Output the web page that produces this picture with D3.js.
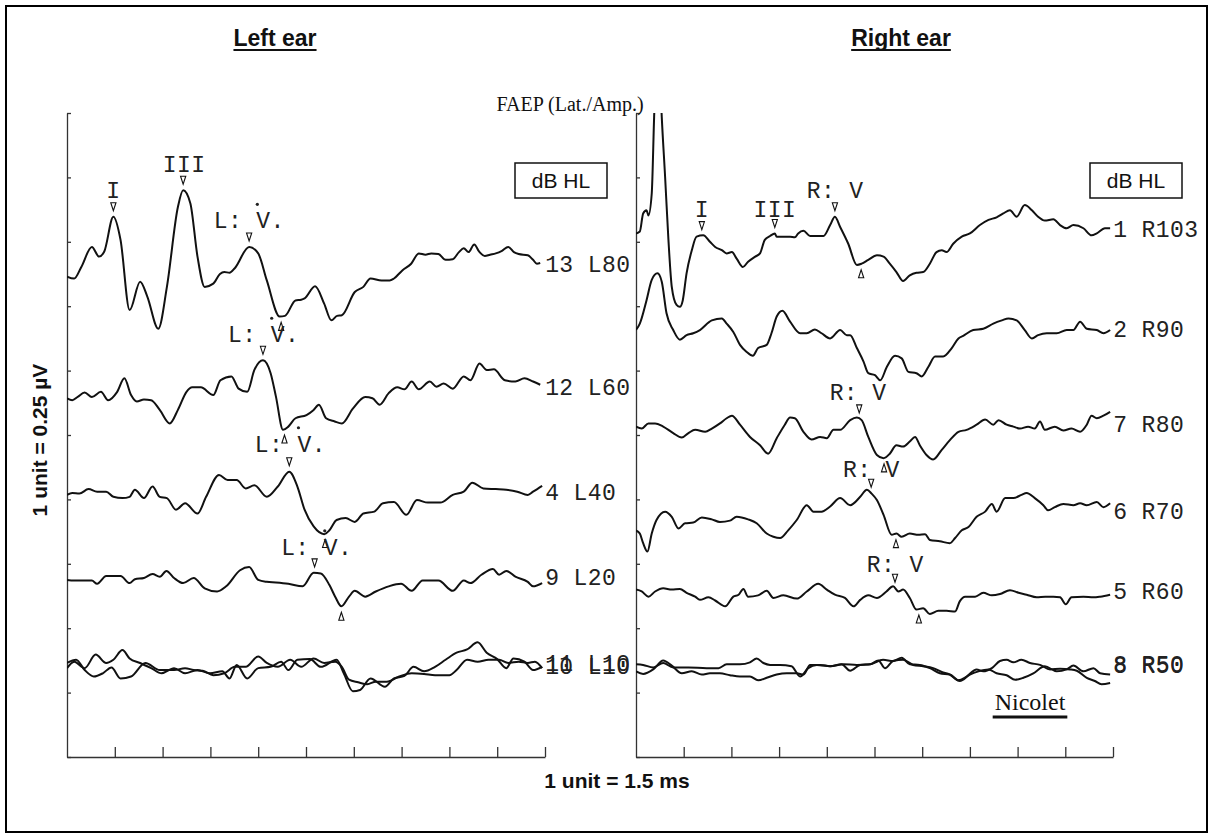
<!DOCTYPE html>
<html><head><meta charset="utf-8">
<script src="https://cdn.jsdelivr.net/npm/d3@7"></script>
<style>body{margin:0;background:#fff}</style>
</head><body>
<svg id="chart" width="1214" height="838"></svg>
<script>
// time in units (1 unit = 1.5 ms), amplitude in units (1 unit = 0.25 µV)
const timeTicks = [0,1,2,3,4,5,6,7,8,9,10];
const ampTicks  = [0,1,2,3,4,5,6,7,8,9,10];

const L80 = [[0,7.46],[0.15,7.43],[0.30,7.61],[0.52,7.92],[0.67,7.77],[0.78,7.85],[0.97,8.39],[1.12,8.03],[1.31,6.94],[1.53,7.38],[1.68,7.15],[1.91,6.65],[2.09,7.30],[2.32,8.54],[2.43,8.80],[2.58,8.60],[2.73,7.77],[2.88,7.30],[3.06,7.35],[3.20,7.50],[3.29,7.53],[3.40,7.52],[3.51,7.59],[3.81,7.92],[4.00,7.82],[4.18,7.40],[4.45,6.84],[4.56,6.85],[4.78,7.09],[4.90,7.10],[4.97,7.12],[5.19,7.31],[5.38,7.04],[5.53,6.78],[5.65,6.85],[5.75,6.86],[6.02,7.22],[6.20,7.30],[6.35,7.43],[6.58,7.40],[6.75,7.40],[6.84,7.43],[7.02,7.56],[7.20,7.66],[7.36,7.82],[7.50,7.80],[7.62,7.82],[7.77,7.81],[7.92,7.72],[8.07,7.73],[8.20,7.84],[8.30,7.90],[8.40,7.84],[8.52,7.96],[8.62,7.85],[8.74,7.78],[8.85,7.80],[8.97,7.82],[9.10,7.86],[9.23,7.92],[9.35,7.84],[9.45,7.81],[9.64,7.79],[9.75,7.72],[9.83,7.66],[9.90,7.67]];
const L60 = [[0,5.57],[0.11,5.54],[0.22,5.59],[0.37,5.66],[0.52,5.59],[0.71,5.67],[0.86,5.54],[1.05,5.67],[1.20,5.88],[1.34,5.62],[1.46,5.52],[1.61,5.55],[1.76,5.54],[1.94,5.39],[2.15,5.18],[2.32,5.39],[2.50,5.67],[2.62,5.74],[2.80,5.74],[3.06,5.62],[3.21,5.85],[3.44,5.91],[3.59,5.72],[3.77,5.67],[3.92,6.01],[4.10,6.16],[4.26,5.96],[4.37,5.60],[4.52,5.08],[4.63,5.13],[4.78,5.26],[5.01,5.31],[5.16,5.39],[5.27,5.47],[5.42,5.26],[5.60,5.21],[5.75,5.18],[5.98,5.41],[6.24,5.59],[6.39,5.57],[6.54,5.47],[6.73,5.65],[6.91,5.74],[7.06,5.71],[7.21,5.83],[7.36,5.71],[7.59,5.83],[7.73,5.75],[7.88,5.80],[8.07,5.72],[8.30,5.91],[8.44,5.85],[8.63,6.11],[8.78,6.01],[8.93,6.02],[9.16,5.85],[9.38,5.83],[9.57,5.88],[9.75,5.83],[9.90,5.78]];
const L40 = [[0,4.07],[0.11,4.10],[0.26,4.09],[0.45,4.16],[0.63,4.12],[0.82,4.12],[0.97,4.04],[1.16,4.02],[1.31,4.04],[1.42,4.15],[1.61,4.02],[1.79,4.20],[1.94,4.04],[2.09,4.02],[2.28,3.84],[2.47,3.94],[2.73,3.78],[2.91,4.04],[3.18,4.38],[3.36,4.30],[3.55,4.30],[3.74,4.17],[3.92,4.22],[4.18,4.04],[4.41,4.20],[4.65,4.43],[4.82,4.20],[4.97,3.84],[5.16,3.58],[5.38,3.46],[5.49,3.52],[5.64,3.68],[5.83,3.71],[6.02,3.65],[6.20,3.78],[6.43,3.81],[6.61,3.94],[6.84,3.96],[7.10,3.76],[7.32,3.99],[7.55,3.95],[7.81,3.95],[8.07,4.07],[8.30,4.12],[8.48,4.26],[8.71,4.17],[8.97,4.16],[9.19,4.15],[9.42,4.12],[9.64,4.07],[9.75,4.12],[9.94,4.21]];
const L20 = [[0,2.75],[0.15,2.74],[0.52,2.74],[0.63,2.69],[0.82,2.81],[1.12,2.81],[1.31,2.70],[1.42,2.76],[1.61,2.78],[1.79,2.84],[1.94,2.80],[2.08,2.89],[2.24,2.78],[2.43,2.70],[2.65,2.78],[2.88,2.62],[3.14,2.57],[3.33,2.65],[3.62,2.90],[3.81,2.95],[4.00,2.75],[4.18,2.72],[4.37,2.71],[4.63,2.69],[4.93,2.65],[5.16,2.86],[5.31,2.85],[5.49,2.67],[5.61,2.49],[5.74,2.34],[5.90,2.49],[6.02,2.58],[6.24,2.49],[6.46,2.57],[6.73,2.65],[6.99,2.69],[7.21,2.58],[7.44,2.74],[7.77,2.74],[8.07,2.58],[8.30,2.74],[8.44,2.70],[8.67,2.83],[8.91,2.92],[9.04,2.83],[9.19,2.89],[9.38,2.80],[9.64,2.72],[9.75,2.65],[9.94,2.70]];
const L10a = [[0,1.38],[0.15,1.48],[0.37,1.38],[0.60,1.59],[0.82,1.46],[0.97,1.51],[1.16,1.66],[1.31,1.53],[1.53,1.46],[1.76,1.38],[1.98,1.30],[2.24,1.38],[2.47,1.30],[2.73,1.35],[2.99,1.30],[3.25,1.33],[3.40,1.22],[3.55,1.43],[3.77,1.22],[4.00,1.38],[4.26,1.40],[4.48,1.48],[4.63,1.35],[4.82,1.51],[5.08,1.52],[5.31,1.40],[5.64,1.51],[5.79,1.30],[5.98,1.02],[6.13,1.04],[6.35,1.22],[6.65,1.09],[6.84,1.22],[7.06,1.26],[7.25,1.40],[7.47,1.33],[7.70,1.40],[7.92,1.51],[8.15,1.62],[8.37,1.67],[8.59,1.78],[8.78,1.62],[9.00,1.52],[9.19,1.38],[9.34,1.53],[9.57,1.48],[9.75,1.35],[9.94,1.40]];
const L10b = [[0,1.46],[0.19,1.51],[0.37,1.35],[0.56,1.25],[0.75,1.30],[0.93,1.39],[1.12,1.22],[1.34,1.25],[1.64,1.46],[1.94,1.35],[2.24,1.35],[2.47,1.38],[2.65,1.35],[2.84,1.34],[3.06,1.27],[3.29,1.30],[3.51,1.40],[3.74,1.40],[4.00,1.56],[4.18,1.46],[4.41,1.40],[4.67,1.51],[4.90,1.40],[5.16,1.53],[5.38,1.46],[5.61,1.48],[5.75,1.40],[5.90,1.20],[6.09,1.16],[6.28,1.13],[6.46,1.17],[6.69,1.17],[6.95,1.25],[7.21,1.30],[7.47,1.29],[7.70,1.27],[8.00,1.27],[8.15,1.35],[8.37,1.51],[8.59,1.48],[8.82,1.51],[9.04,1.51],[9.23,1.46],[9.45,1.48],[9.64,1.46],[9.79,1.48],[9.94,1.38]];

const R103 = [[0,8.13],[0.08,8.16],[0.15,8.44],[0.22,8.49],[0.26,8.41],[0.33,8.75],[0.38,9.94],[0.46,11.4],[0.54,9.94],[0.61,9.01],[0.68,8.03],[0.75,7.30],[0.85,7.02],[0.92,6.99],[0.98,7.09],[1.06,7.51],[1.17,7.87],[1.27,8.08],[1.41,8.10],[1.55,8.00],[1.66,7.92],[1.80,7.87],[1.90,7.82],[2.01,7.84],[2.11,7.74],[2.24,7.61],[2.35,7.69],[2.50,7.77],[2.60,7.82],[2.70,8.03],[2.81,8.09],[2.91,8.13],[2.95,8.08],[3.05,8.08],[3.23,8.08],[3.33,8.07],[3.40,8.13],[3.51,8.17],[3.65,8.09],[3.93,8.09],[4.07,8.26],[4.17,8.39],[4.28,8.23],[4.45,7.97],[4.63,7.64],[4.73,7.66],[4.87,7.72],[5.05,7.79],[5.19,7.77],[5.32,7.66],[5.46,7.53],[5.60,7.39],[5.74,7.48],[5.88,7.52],[6.02,7.53],[6.16,7.66],[6.30,7.84],[6.41,7.87],[6.51,7.84],[6.65,7.97],[6.83,8.08],[7.00,8.13],[7.21,8.26],[7.39,8.34],[7.56,8.38],[7.70,8.44],[7.84,8.49],[7.98,8.39],[8.15,8.57],[8.30,8.49],[8.43,8.39],[8.57,8.33],[8.75,8.35],[8.89,8.26],[9.03,8.21],[9.17,8.26],[9.38,8.21],[9.55,8.10],[9.66,8.13],[9.83,8.21],[9.94,8.21]];
const R90 = [[0,6.63],[0.08,6.73],[0.22,7.09],[0.33,7.41],[0.45,7.51],[0.54,7.38],[0.64,6.89],[0.78,6.63],[0.92,6.48],[1.06,6.55],[1.20,6.58],[1.34,6.63],[1.59,6.78],[1.80,6.81],[1.90,6.73],[2.04,6.60],[2.18,6.40],[2.32,6.29],[2.45,6.23],[2.56,6.35],[2.74,6.40],[2.84,6.58],[2.95,6.84],[3.07,6.93],[3.23,6.76],[3.44,6.58],[3.58,6.58],[3.75,6.64],[3.89,6.58],[4.07,6.50],[4.28,6.63],[4.42,6.55],[4.49,6.55],[4.63,6.35],[4.77,6.14],[4.87,5.96],[5.01,5.93],[5.12,5.85],[5.26,6.06],[5.43,6.23],[5.57,6.19],[5.71,5.98],[5.88,5.96],[5.99,5.91],[6.13,6.06],[6.27,6.22],[6.44,6.22],[6.62,6.35],[6.76,6.50],[6.86,6.54],[7.07,6.63],[7.28,6.65],[7.49,6.73],[7.67,6.78],[7.81,6.81],[7.98,6.78],[8.15,6.63],[8.30,6.50],[8.43,6.55],[8.61,6.58],[8.82,6.58],[9.03,6.63],[9.17,6.63],[9.31,6.76],[9.45,6.65],[9.66,6.63],[9.80,6.58],[9.94,6.63]];
const R80 = [[0,5.13],[0.12,5.10],[0.26,5.18],[0.40,5.18],[0.57,5.13],[0.78,5.03],[0.96,4.96],[1.10,5.03],[1.24,5.08],[1.45,5.05],[1.59,5.10],[1.76,5.18],[1.90,5.26],[2.01,5.30],[2.18,5.16],[2.39,4.97],[2.60,4.84],[2.77,4.71],[2.95,4.95],[3.12,5.16],[3.23,5.27],[3.33,5.26],[3.51,5.05],[3.68,4.93],[3.86,4.97],[4.00,4.95],[4.14,5.08],[4.28,5.08],[4.49,5.23],[4.63,5.27],[4.73,5.23],[4.87,4.97],[5.05,4.69],[5.19,4.64],[5.32,4.71],[5.46,4.84],[5.60,4.82],[5.74,4.90],[5.85,4.97],[5.95,4.84],[6.09,4.69],[6.23,4.62],[6.41,4.77],[6.58,4.92],[6.76,5.05],[6.93,5.08],[7.14,5.16],[7.32,5.24],[7.49,5.16],[7.60,5.23],[7.77,5.16],[7.91,5.13],[8.05,5.10],[8.22,5.13],[8.36,5.10],[8.47,5.21],[8.57,5.08],[8.78,5.13],[8.96,5.07],[9.13,5.10],[9.31,5.05],[9.45,5.16],[9.55,5.30],[9.66,5.26],[9.80,5.30],[9.94,5.36]];
const R70 = [[0,3.52],[0.08,3.47],[0.15,3.32],[0.24,3.19],[0.33,3.47],[0.43,3.68],[0.61,3.81],[0.75,3.73],[0.89,3.55],[1.03,3.63],[1.20,3.64],[1.38,3.72],[1.59,3.69],[1.76,3.65],[1.97,3.67],[2.11,3.73],[2.35,3.69],[2.53,3.63],[2.74,3.47],[2.88,3.42],[3.02,3.40],[3.19,3.52],[3.37,3.68],[3.58,3.91],[3.72,3.81],[3.89,3.81],[4.07,3.89],[4.28,4.02],[4.49,3.91],[4.70,4.04],[4.84,4.15],[4.94,4.09],[5.05,3.99],[5.19,3.76],[5.36,3.45],[5.46,3.47],[5.57,3.42],[5.74,3.47],[5.92,3.45],[6.06,3.46],[6.16,3.37],[6.37,3.35],[6.58,3.32],[6.69,3.40],[6.83,3.52],[6.97,3.57],[7.14,3.73],[7.32,3.81],[7.46,3.93],[7.56,3.81],[7.74,4.02],[7.91,4.02],[8.08,4.07],[8.19,4.10],[8.36,4.02],[8.54,3.91],[8.64,3.83],[8.78,3.88],[8.96,3.93],[9.17,3.91],[9.31,3.94],[9.45,3.91],[9.66,3.96],[9.80,3.88],[9.94,3.94]];
const R60 = [[0,2.60],[0.12,2.57],[0.26,2.49],[0.40,2.57],[0.57,2.62],[0.75,2.60],[0.92,2.61],[1.06,2.55],[1.24,2.49],[1.34,2.44],[1.52,2.48],[1.66,2.43],[1.87,2.34],[2.04,2.49],[2.15,2.52],[2.25,2.61],[2.35,2.49],[2.56,2.51],[2.74,2.58],[2.88,2.47],[3.09,2.51],[3.37,2.46],[3.58,2.57],[3.82,2.69],[4.00,2.60],[4.17,2.52],[4.38,2.47],[4.56,2.34],[4.70,2.44],[4.87,2.51],[5.05,2.47],[5.25,2.57],[5.39,2.65],[5.50,2.57],[5.60,2.60],[5.74,2.47],[5.88,2.29],[6.02,2.31],[6.16,2.22],[6.34,2.27],[6.51,2.27],[6.69,2.26],[6.79,2.42],[6.90,2.49],[7.11,2.49],[7.28,2.55],[7.46,2.51],[7.63,2.53],[7.84,2.59],[8.02,2.55],[8.19,2.52],[8.40,2.48],[8.58,2.49],[8.75,2.49],[8.89,2.48],[9.01,2.37],[9.13,2.48],[9.38,2.49],[9.59,2.48],[9.73,2.49],[9.94,2.52]];
const R50a = [[0,1.44],[0.15,1.43],[0.36,1.39],[0.57,1.46],[0.78,1.39],[1.10,1.39],[1.48,1.38],[1.73,1.38],[1.90,1.44],[2.18,1.44],[2.39,1.47],[2.53,1.53],[2.67,1.46],[2.81,1.43],[3.02,1.43],[3.26,1.41],[3.44,1.25],[3.61,1.38],[3.79,1.43],[4.07,1.41],[4.35,1.44],[4.63,1.43],[4.91,1.44],[5.08,1.50],[5.22,1.38],[5.39,1.49],[5.60,1.51],[5.81,1.43],[6.02,1.41],[6.23,1.38],[6.41,1.32],[6.58,1.28],[6.76,1.19],[6.93,1.25],[7.14,1.36],[7.28,1.33],[7.46,1.38],[7.63,1.49],[7.77,1.51],[7.91,1.47],[8.08,1.51],[8.26,1.46],[8.47,1.43],[8.68,1.36],[8.89,1.37],[9.10,1.36],[9.24,1.34],[9.45,1.23],[9.62,1.18],[9.76,1.13],[9.94,1.15]];
const R50b = [[0,1.33],[0.15,1.29],[0.36,1.36],[0.57,1.50],[0.75,1.42],[0.96,1.30],[1.17,1.33],[1.38,1.28],[1.55,1.30],[1.76,1.30],[1.97,1.27],[2.18,1.25],[2.39,1.25],[2.56,1.19],[2.74,1.23],[2.95,1.28],[3.16,1.30],[3.37,1.30],[3.51,1.28],[3.65,1.43],[3.86,1.43],[4.07,1.41],[4.31,1.44],[4.49,1.34],[4.70,1.43],[4.91,1.44],[5.18,1.51],[5.39,1.49],[5.57,1.54],[5.74,1.44],[5.95,1.43],[6.16,1.38],[6.37,1.30],[6.58,1.28],[6.79,1.18],[7.00,1.28],[7.18,1.33],[7.39,1.36],[7.56,1.30],[7.77,1.27],[7.95,1.20],[8.12,1.23],[8.33,1.30],[8.57,1.41],[8.82,1.33],[9.03,1.36],[9.17,1.42],[9.38,1.33],[9.59,1.38],[9.73,1.30],[9.94,1.28]];

// trace label text and the amplitude (units) at which it sits
const leftLabels  = ["13 L80","12 L60","4 L40","9 L20","11 L10","10 L10"];
const leftLabelV  = [7.64,5.73,4.10,2.78,1.45,1.40];
const rightLabels = ["1 R103","2 R90","7 R80","6 R70","5 R60","8 R50","8 R50"];
const rightLabelV = [8.18,6.63,5.16,3.80,2.56,1.43,1.42];

// wave markers: [trace, time, +1 peak / -1 trough]
const leftMarks = [["L80",0.97,1],["L80",2.43,1],["L80",3.81,1],["L80",4.48,-1],["L60",4.10,1],["L60",4.55,-1],["L40",4.65,1],["L40",5.40,-1],["L20",5.18,1],["L20",5.74,-1]];
const rightMarks = [["R103",1.38,1],["R103",2.91,1],["R103",4.17,1],["R103",4.72,-1],["R80",4.68,1],["R80",5.20,-1],["R70",4.93,1],["R70",5.45,-1],["R60",5.43,1],["R60",5.93,-1]];
// wave annotations: [text, time, amplitude]
const leftNotes = [["I",0.97,8.68],["III",2.45,9.08],["L: V.",3.07,8.21],["L: V.",3.37,6.44],["L: V.",3.93,4.74],["L: V.",4.48,3.14]];
const rightNotes = [["I",1.38,8.39],["III",2.91,8.39],["R: V",3.58,8.68],["R: V",4.06,5.54],["R: V",4.34,4.35],["R: V",4.84,2.87]];

const traces = {L80,L60,L40,L20,L10a,L10b,R103,R90,R80,R70,R60,R50a,R50b};
const leftSet = ["L80","L60","L40","L20","L10a","L10b"];
const rightSet = ["R103","R90","R80","R70","R60","R50a","R50b"];

const svg = d3.select("#chart");
svg.append("rect").attr("x",6).attr("y",6).attr("width",1201).attr("height",826)
  .attr("fill","#fff").attr("stroke","#000").attr("stroke-width",2);

const y = d3.scaleLinear().domain([0,10]).range([757,113]);
const MONO = "'Liberation Mono', 'Courier New', monospace";
const FS = 23, LS = 0.4, CH = FS*0.6 + LS;

function valueAt(d, t){
  for (let i=1;i<d.length;i++){
    if (d[i][0] >= t){
      const [t0,v0]=d[i-1],[t1,v1]=d[i];
      return v0 + (v1-v0)*(t-t0)/(t1-t0);
    }
  }
  return d[d.length-1][1];
}

function panel(x, names, labels, labelV, marks, notes, clipId){
  const g = svg.append("g");
  g.append("g").attr("transform",`translate(0,${y(0)})`)
    .call(d3.axisTop(x).tickValues(timeTicks.slice(1)).tickSize(10).tickSizeOuter(0).tickFormat(""))
    .call(s=>s.selectAll("path,line").attr("stroke","#333").attr("stroke-width",1.3));
  g.append("g").attr("transform",`translate(${x(0)},0)`)
    .call(d3.axisRight(y).tickValues(ampTicks).tickSize(4).tickSizeOuter(0).tickFormat(""))
    .call(s=>s.selectAll("path,line").attr("stroke","#333").attr("stroke-width",1.3));

  svg.append("clipPath").attr("id",clipId).append("rect")
    .attr("x",x(0)).attr("y",y(10)).attr("width",x(10)-x(0)+10).attr("height",y(0)-y(10));

  const line = d3.line().x(d=>x(d[0])).y(d=>y(d[1])).curve(d3.curveMonotoneX);
  g.append("g").attr("clip-path",`url(#${clipId})`)
    .selectAll("path").data(names).join("path")
    .attr("d",n=>line(traces[n])).attr("fill","none")
    .attr("stroke","#111").attr("stroke-width",2).attr("stroke-linejoin","round");

  const lx = x(d3.max(names, n=>traces[n][traces[n].length-1][0])) + 3;
  g.selectAll("text.lab").data(labels).join("text").attr("class","lab")
    .attr("x",lx).attr("y",(d,i)=>y(labelV[i])+7)
    .attr("font-family",MONO).attr("font-size",FS).attr("letter-spacing",LS)
    .attr("fill","#222").text(d=>d);

  const tri = (dir)=> dir>0 ? "M-2.6,-4 L2.6,-4 L0,4 Z" : "M-2.6,4 L2.6,4 L0,-4 Z";
  g.selectAll("path.mk").data(marks).join("path").attr("class","mk")
    .attr("transform",d=>{
      const v = valueAt(traces[d[0]], d[1]);
      return `translate(${x(d[1])},${y(v) - d[2]*10})`;
    })
    .attr("d",d=>tri(d[2])).attr("fill","#fff").attr("stroke","#111").attr("stroke-width",1.1);

  const ng = g.selectAll("g.note").data(notes).join("g").attr("class","note");
  ng.append("text")
    .attr("x",d=>x(d[1])).attr("y",d=>y(d[2]))
    .attr("text-anchor",d=>d[0].startsWith("I")?"middle":"start")
    .attr("font-family",MONO).attr("font-size",FS).attr("letter-spacing",LS)
    .attr("fill","#222").text(d=>d[0]);
  ng.filter(d=>d[0].endsWith("V.")).append("circle")
    .attr("cx",d=>x(d[1]) + 3*CH + 1).attr("cy",d=>y(d[2]) - 24).attr("r",1.6).attr("fill","#222");
}

const xL = d3.scaleLinear().domain([0,10]).range([67,545]);
const xR = d3.scaleLinear().domain([0,10]).range([636,1113]);
panel(xL, leftSet, leftLabels, leftLabelV, leftMarks, leftNotes, "clipL");
panel(xR, rightSet, rightLabels, rightLabelV, rightMarks, rightNotes, "clipR");

const SANS = "'Liberation Sans', Arial, sans-serif";
const SERIF = "'Liberation Serif','Times New Roman',serif";
[["Left ear",275],["Right ear",901]].forEach(([t,cx])=>{
  const tx = svg.append("text").attr("x",cx).attr("y",46).attr("text-anchor","middle")
    .attr("font-family",SANS).attr("font-weight","bold").attr("font-size",23).attr("fill","#111").text(t);
  const w = tx.node().getComputedTextLength();
  svg.append("line").attr("x1",cx-w/2).attr("x2",cx+w/2).attr("y1",50).attr("y2",50)
    .attr("stroke","#111").attr("stroke-width",2);
});
svg.append("text").attr("x",570).attr("y",111).attr("text-anchor","middle")
  .attr("font-family",SERIF).attr("font-size",20).attr("fill","#111")
  .text("FAEP (Lat./Amp.)");

[515,1090].forEach(bx=>{
  svg.append("rect").attr("x",bx).attr("y",163).attr("width",92).attr("height",35)
    .attr("fill","#fff").attr("stroke","#111").attr("stroke-width",1.5);
  svg.append("text").attr("x",bx+46).attr("y",188).attr("text-anchor","middle")
    .attr("font-family",SANS).attr("font-size",21).attr("fill","#111").text("dB HL");
});

const nic = svg.append("text").attr("x",1030).attr("y",710).attr("text-anchor","middle")
  .attr("font-family",SERIF).attr("font-size",24).attr("fill","#111").text("Nicolet");
const nw = nic.node().getComputedTextLength();
svg.append("line").attr("x1",1030-nw/2-2).attr("x2",1030+nw/2+2).attr("y1",717).attr("y2",717)
  .attr("stroke","#111").attr("stroke-width",3);

svg.append("text").attr("x",617).attr("y",788).attr("text-anchor","middle")
  .attr("font-family",SANS).attr("font-weight","bold").attr("font-size",21).attr("fill","#111")
  .text("1 unit = 1.5 ms");
svg.append("text").attr("transform","translate(47,440) rotate(-90)").attr("text-anchor","middle")
  .attr("font-family",SANS).attr("font-weight","bold").attr("font-size",21).attr("fill","#111")
  .text("1 unit = 0.25 µV");
</script>
</body></html>
